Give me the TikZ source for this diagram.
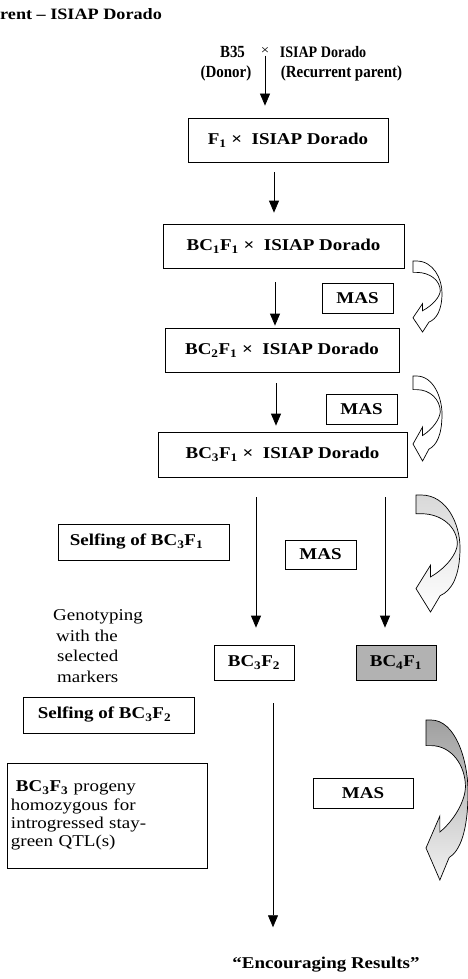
\documentclass[tikz,border=0pt]{standalone}
\usepackage{fontspec}
\setmainfont{Liberation Serif}[FakeStretch=1.15]
\newfontfamily\narrowserif{Liberation Serif}[FakeStretch=0.88]
\usetikzlibrary{arrows.meta}

\tikzset{
  pics/bendarrow/.style={code={
    \draw[line width=0.7pt, #1] (0,0) -- (0.12,0)
      .. controls (0.7,0) and (1,0.25) .. (1,0.45)
      .. controls (1,0.7) and (0.8,0.82) .. (0.55,0.86)
      -- (0.33,1) -- (0,0.8) -- (0.33,0.6) -- (0.33,0.7)
      .. controls (0.7,0.62) and (0.93,0.5) .. (0.94,0.42)
      .. controls (0.94,0.28) and (0.6,0.16) .. (0.12,0.16)
      -- (0,0.16) -- cycle;
  }}
}

\begin{document}
\begin{tikzpicture}[
    x=1pt, y=-1pt,
    font=\fontsize{16.5}{19}\selectfont,
    lbl/.style={font=\fontsize{16.5}{19}\selectfont\bfseries},
    parent/.style={font=\narrowserif\fontsize{17}{19}\selectfont\bfseries, inner sep=1pt},
    box/.style={
        draw,
        line width=0.7pt,
        inner sep=0pt,
        font=\fontsize{16.5}{19}\selectfont\bfseries
    },
    masbox/.style={box, minimum width=71pt, minimum height=30pt},
    arr/.style={line width=0.7pt, -{Triangle[width=10pt,length=12pt]}},
    plain/.style={align=left, inner sep=0pt}
  ]
    \useasboundingbox (0,0) rectangle (468,979);

    % Title
    \node[lbl, font=\fontsize{15.8}{19}\selectfont\bfseries, anchor=west, inner sep=0pt] (title) at (0,14) {rent – ISIAP Dorado};

    % Parents
    \node[parent] (b35) at (232.5,52) {B35};
    \node[parent, font=\fontsize{13}{15}\selectfont] (cross) at (265,51) {×};
    \node[parent, font=\narrowserif\fontsize{16}{19}\selectfont\bfseries] (recur) at (323,52) {ISIAP Dorado};
    \node[parent] (donorlbl) at (226,73) {(Donor)};
    \node[parent] (recurlbl) at (341.5,73) {(Recurrent parent)};

    % Backcross generations
    \node[box, minimum width=200pt, minimum height=44pt] (f1) at (288,140)
        {F\textsubscript{1} ×\ \ ISIAP Dorado};
    \node[box, minimum width=241pt, minimum height=44pt] (bc1) at (283.5,246)
        {BC\textsubscript{1}F\textsubscript{1} ×\ \ ISIAP Dorado};
    \node[masbox] (mas1) at (357.5,298) {MAS};
    \node[box, minimum width=234pt, minimum height=44pt] (bc2) at (282,350)
        {BC\textsubscript{2}F\textsubscript{1} ×\ \ ISIAP Dorado};
    \node[masbox] (mas2) at (361.5,409) {MAS};
    \node[box, minimum width=249pt, minimum height=45pt] (bc3) at (282.5,454.5)
        {BC\textsubscript{3}F\textsubscript{1} ×\ \ ISIAP Dorado};

    % Selfing
    \node[box, minimum width=171pt, minimum height=36pt] (self1) at (143.5,542)
        {Selfing of BC\textsubscript{3}F\textsubscript{1}\hspace*{14pt}};
    \node[masbox, minimum height=29pt] (mas3) at (320.5,554.5) {MAS};
    \node[plain, font=\fontsize{16.5}{20.5}\selectfont] (geno) at (98,646)
        {Genotyping\\\hspace*{3pt}with the\\\hspace*{4pt}selected\\\hspace*{4pt}markers};
    \node[box, minimum width=80pt, minimum height=35pt] (bc3f2) at (254,662.5)
        {BC\textsubscript{3}F\textsubscript{2}};
    \node[box, minimum width=80pt, minimum height=35pt, fill=gray!60] (bc4f1) at (396,662.5)
        {BC\textsubscript{4}F\textsubscript{1}};
    \node[box, minimum width=171pt, minimum height=36pt] (self2) at (108.5,715)
        {Selfing of BC\textsubscript{3}F\textsubscript{2}\hspace*{8pt}};

    % Final progeny
    \node[draw, line width=0.7pt, minimum width=200pt, minimum height=105pt,
          align=left, text width=192pt, font=\fontsize{16.5}{18.3}\selectfont] (bc3f3) at (107,815.5)
        {\hspace*{5pt}\textbf{BC\textsubscript{3}F\textsubscript{3}} progeny\\
         homozygous for\\
         introgressed stay-\\
         green QTL(s)};
    \node[masbox, minimum width=100pt] (mas4) at (363,793) {MAS};
    \node[lbl, inner sep=0pt] (result) at (326,965) {“Encouraging Results”};

    % Arrows
    \draw[arr, shorten >=12pt] (cross) -- (cross |- f1.north);
    \draw[arr, shorten <=10pt, shorten >=11pt] ([xshift=-14pt]f1.south) -- ([xshift=-14pt]f1.south |- bc1.north);
    \draw[arr, shorten <=14pt, shorten >=2pt] ([xshift=-8.5pt]bc1.south) -- ([xshift=-8.5pt]bc1.south |- bc2.north);
    \draw[arr, shorten <=11pt, shorten >=6pt] ([xshift=-6pt]bc2.south) -- ([xshift=-6pt]bc2.south |- bc3.north);
    \draw[arr, shorten <=20pt, shorten >=17pt] ([xshift=2pt]bc3f2.north |- bc3.south) -- ([xshift=2pt]bc3f2.north);
    \draw[arr, shorten <=20pt, shorten >=17pt] ([xshift=-11pt]bc4f1.north |- bc3.south) -- ([xshift=-11pt]bc4f1.north);
    \draw[arr, shorten <=23pt, shorten >=30pt] ([xshift=19pt]bc3f2.south) -- ([xshift=19pt]bc3f2.south |- result.north);

    % Curved MAS arrows
    \pic[xscale=29, yscale=71] at (413,261) {bendarrow={fill=white}};
    \pic[xscale=29, yscale=85] at (413,376) {bendarrow={fill=white}};
    \pic[xscale=44, yscale=117] at (416,495) {bendarrow={top color=gray!30, bottom color=white}};
    \pic[xscale=42, yscale=160] at (426,720) {bendarrow={top color=gray!75, bottom color=gray!10}};
\end{tikzpicture}
\end{document}
